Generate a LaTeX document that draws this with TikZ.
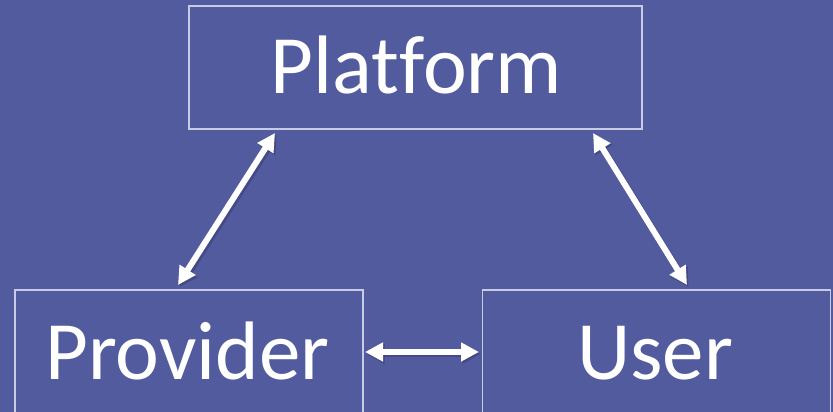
\documentclass[tikz,border=0pt]{standalone}
\usepackage{fontspec}
\setmainfont[Ligatures=CommonOff]{Carlito}
\usetikzlibrary{arrows.meta}
\definecolor{bgblue}{RGB}{83,91,159}
\definecolor{boxline}{RGB}{200,203,230}
\definecolor{shadowc}{RGB}{40,44,90}
\tikzset{
  box/.style={draw=boxline, line width=1.1pt, inner sep=0pt},
  lbl/.style={text=white, anchor=base, inner sep=0pt},
  conn/.style={white, line width=6pt, {Triangle[length=18pt,width=18pt]}-{Triangle[length=18pt,width=18pt]}},
  connshadow/.style={shadowc, opacity=0.35, line width=7pt, {Triangle[length=18pt,width=19pt]}-{Triangle[length=18pt,width=19pt]}}
}
\begin{document}
\begin{tikzpicture}[x=1pt,y=1pt]
\fill[bgblue] (0,0) rectangle (833,412);
\useasboundingbox (0,0) rectangle (833,412);
% boxes
\node[box, minimum width=453pt, minimum height=123pt] (plat) at (415.5,344.5) {};
\node[box, minimum width=348pt, minimum height=123pt] (prov) at (189,60.5) {};
\node[box, minimum width=348.5pt, minimum height=123pt] (user) at (656.3,60.5) {};
% labels
\node[lbl, font=\fontsize{83}{100}\selectfont] (tplat) at (416.5,318) {Platform};
\node[lbl, font=\fontsize{83}{100}\selectfont] (tprov) at (187.5,32) {Provider};
\node[lbl, font=\fontsize{83}{100}\selectfont] (tuser) at (655,32) {User};
% arrow end points
\coordinate (a1) at (178,127);
\coordinate (a2) at (275,279);
\coordinate (b1) at (593,279);
\coordinate (b2) at (687,127);
\coordinate (c1) at (365,60);
\coordinate (c2) at (479,60);
% shadows
\draw[connshadow] ([shift={(1.5,-2)}]a1) -- ([shift={(1.5,-2)}]a2);
\draw[connshadow] ([shift={(1.5,-2)}]b1) -- ([shift={(1.5,-2)}]b2);
\draw[connshadow] ([shift={(1.5,-2)}]c1) -- ([shift={(1.5,-2)}]c2);
% connectors
\draw[conn] (a1) -- (a2);
\draw[conn] (b1) -- (b2);
\draw[conn] (c1) -- (c2);
\end{tikzpicture}
\end{document}
